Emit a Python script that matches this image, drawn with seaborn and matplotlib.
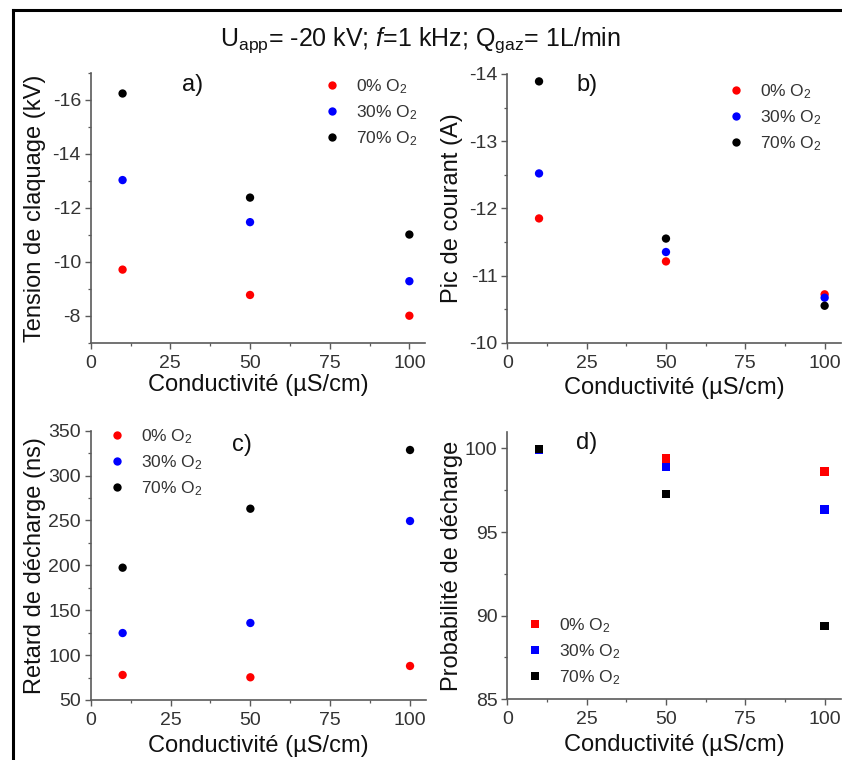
import numpy as np
import pandas as pd
import matplotlib
matplotlib.use("Agg")
import matplotlib.pyplot as plt
from matplotlib.ticker import AutoMinorLocator, MultipleLocator
from matplotlib.lines import Line2D
import seaborn as sns

# ---- data -------------------------------------------------------------
conductivite = [10, 50, 100]                      # µS/cm
groupes = ["0% O$_2$", "30% O$_2$", "70% O$_2$"]
couleurs = ["#ff0000", "#0000ff", "#000000"]

tension_0 = [-9.71, -8.77, -8.00]                 # kV
tension_30 = [-13.03, -11.47, -9.28]
tension_70 = [-16.24, -12.38, -11.01]

courant_0 = [-11.85, -11.21, -10.72]              # A
courant_30 = [-12.52, -11.35, -10.67]
courant_70 = [-13.89, -11.55, -10.55]

retard_0 = [77.9, 75.3, 87.9]                     # ns
retard_30 = [124.6, 135.8, 249.4]
retard_70 = [197.4, 263.1, 328.5]

proba_0 = [99.95, 99.40, 98.63]                   # %
proba_30 = [99.90, 98.90, 96.35]
proba_70 = [99.95, 97.29, 89.40]


def long_table(series):
    rows = []
    for g, vals in zip(groupes, series):
        for c, v in zip(conductivite, vals):
            rows.append({"cond": c, "groupe": g, "val": v})
    return pd.DataFrame(rows)


# ---- style ------------------------------------------------------------
sns.set_theme(style="ticks")
plt.rcParams["font.family"] = ["Liberation Sans", "DejaVu Sans"]
plt.rcParams["mathtext.fontset"] = "custom"
plt.rcParams["mathtext.rm"] = "Liberation Sans"
plt.rcParams["mathtext.it"] = "Liberation Sans:italic"
plt.rcParams["axes.unicode_minus"] = False

W, H = 842, 760
fig = plt.figure(figsize=(W / 100, H / 100), dpi=100)
fig.patch.set_facecolor("white")


def box(x0, y0, x1, y1):
    """pixel box (top-left origin) -> figure fraction rect"""
    return [x0 / W, 1 - y1 / H, (x1 - x0) / W, (y1 - y0) / H]


def fpt(x, y):
    return (x / W, 1 - y / H)


palette = dict(zip(groupes, couleurs))
spine_col = "#5a5a5a"
tick_col = "#333333"

panels = [
    dict(rect=box(90.7, 73.0, 425.3, 342.7), data=[tension_0, tension_30, tension_70],
         ylim=(-7, -17), ymaj=2, ylabel="Tension de claquage (kV)", marker="o",
         tag="a)", tag_px=(193, 85), leg_px=(323.5, 77.0), xlab_y=385, ylab_x=35),
    dict(rect=box(507.3, 74.0, 840.5, 342.7), data=[courant_0, courant_30, courant_70],
         ylim=(-10, -14), ymaj=1, ylabel="Pic de courant (A)", marker="o",
         tag="b)", tag_px=(587, 85), leg_px=(727.5, 82.5), xlab_y=388, ylab_x=452),
    dict(rect=box(90.7, 430.7, 426.0, 700.0), data=[retard_0, retard_30, retard_70],
         ylim=(50, 350), ymaj=50, ylabel="Retard de décharge (ns)", marker="o",
         tag="c)", tag_px=(242, 445), leg_px=(108.5, 427.0), xlab_y=746, ylab_x=35),
    dict(rect=box(507.3, 431.7, 840.5, 699.3), data=[proba_0, proba_30, proba_70],
         ylim=(85, 101), ymaj=5, ylabel="Probabilité de décharge", marker="s",
         tag="d)", tag_px=(587, 443), leg_px=(526.5, 616.5), xlab_y=745, ylab_x=452),
]

for p in panels:
    ax = fig.add_axes(p["rect"])
    df = long_table(p["data"])
    sns.scatterplot(data=df, x="cond", y="val", hue="groupe", palette=palette,
                    hue_order=groupes, marker=p["marker"], s=36, linewidth=0,
                    ax=ax, legend=True)
    ax.set_xlim(0, 105)
    ax.set_ylim(*p["ylim"])
    ax.xaxis.set_major_locator(MultipleLocator(25))
    ax.xaxis.set_minor_locator(AutoMinorLocator(2))
    ax.yaxis.set_major_locator(MultipleLocator(p["ymaj"]))
    ax.yaxis.set_minor_locator(AutoMinorLocator(2))

    for s in ("top", "right"):
        ax.spines[s].set_visible(False)
    for s in ("left", "bottom"):
        ax.spines[s].set_color(spine_col)
        ax.spines[s].set_linewidth(1.2)
    ax.tick_params(which="major", direction="out", length=4.5, width=1.0,
                   color=spine_col, labelsize=14, labelcolor=tick_col)
    ax.tick_params(which="minor", direction="out", length=2.5, width=0.9,
                   color=spine_col)
    ax.tick_params(axis="y", which="major", pad=2.5)
    ax.tick_params(axis="x", which="major", pad=4)

    ax.set_xlabel("Conductivité (µS/cm)", fontsize=17, color="#111111", va="center")
    ax.set_ylabel(p["ylabel"], fontsize=17, color="#111111", va="center")
    fw = p["rect"][2] * W
    fh = p["rect"][3] * H
    left_px = p["rect"][0] * W
    bottom_px = (1 - p["rect"][1]) * H
    ax.yaxis.set_label_coords((p["ylab_x"] - left_px) / fw, 0.5)
    ax.xaxis.set_label_coords(0.5, (bottom_px - p["xlab_y"]) / fh)

    ax.text(*fpt(*p["tag_px"]), p["tag"], transform=fig.transFigure,
            fontsize=17, ha="center", va="center", color="#111111")

    sns.move_legend(ax, "upper left", bbox_to_anchor=fpt(*p["leg_px"]),
                    bbox_transform=fig.transFigure, title=None, frameon=False,
                    fontsize=12.5, labelcolor="#333333", borderpad=0,
                    handlelength=1.0, handletextpad=0.85, labelspacing=0.42,
                    borderaxespad=0)

# ---- title and frame -------------------------------------------------
fig.text(*fpt(420, 40),
         r"U$_{\mathregular{app}}$= -20 kV; $\mathit{f}$=1 kHz; Q$_{\mathregular{gaz}}$= 1L/min",
         ha="center", va="center", fontsize=18, color="#111111")

frame_y = 1 - 10 / H
frame_x = 12.5 / W
fig.add_artist(Line2D([frame_x, frame_x], [0, frame_y], transform=fig.transFigure,
                      color="black", lw=2.2, solid_capstyle="projecting"))
fig.add_artist(Line2D([frame_x, 1], [frame_y, frame_y], transform=fig.transFigure,
                      color="black", lw=2.2, solid_capstyle="projecting"))

fig.savefig("out.png", dpi=100, facecolor="white")
